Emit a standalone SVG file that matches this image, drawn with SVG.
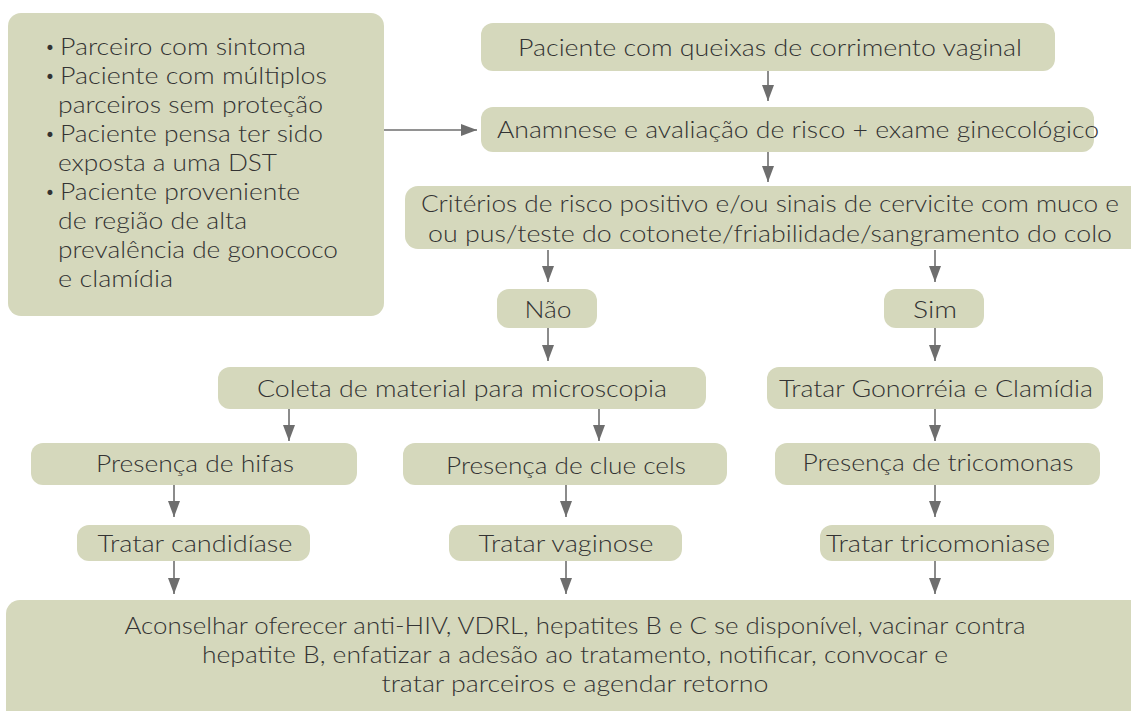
<svg xmlns="http://www.w3.org/2000/svg" width="1131" height="711" viewBox="0 0 1131 711">
<style>
.box{fill:#d5d8bc;}
.t{font-family:Lato,"Open Sans","Liberation Sans",sans-serif;font-size:23px;font-weight:300;fill:#333333;}
.b{font-size:17px;}
.c{text-anchor:middle;}
.ln{stroke:#6e6e6e;stroke-width:1.6;fill:none;marker-end:url(#ah);}
</style>
<defs>
<marker id="ah" markerUnits="userSpaceOnUse" markerWidth="16" markerHeight="12" refX="16" refY="6" orient="auto">
<path d="M0,0 L16,6 L0,12 z" fill="#6e6e6e"/>
</marker>
</defs>
<rect width="1131" height="711" fill="#ffffff"/>

<g id="connectors">
<line class="ln" x1="384" y1="130" x2="477" y2="130"/>
<line class="ln" x1="768" y1="71" x2="768" y2="101"/>
<line class="ln" x1="768" y1="152" x2="768" y2="182"/>
<line class="ln" x1="548" y1="250" x2="548" y2="282"/>
<line class="ln" x1="935" y1="250" x2="935" y2="282"/>
<line class="ln" x1="548" y1="328" x2="548" y2="361"/>
<line class="ln" x1="935" y1="328" x2="935" y2="361"/>
<line class="ln" x1="289" y1="409" x2="289" y2="441"/>
<line class="ln" x1="599" y1="409" x2="599" y2="441"/>
<line class="ln" x1="935" y1="409" x2="935" y2="441"/>
<line class="ln" x1="174" y1="485" x2="174" y2="517"/>
<line class="ln" x1="566" y1="485" x2="566" y2="517"/>
<line class="ln" x1="935" y1="485" x2="935" y2="517"/>
<line class="ln" x1="174" y1="561" x2="174" y2="594"/>
<line class="ln" x1="566" y1="561" x2="566" y2="594"/>
<line class="ln" x1="935" y1="561" x2="935" y2="594"/>
</g>

<g id="risk-factors">
<rect class="box" x="8" y="13" width="376" height="303" rx="13"/>
<text class="t b" x="45" y="53">•</text><text class="t" x="60" y="55" textLength="246" lengthAdjust="spacingAndGlyphs">Parceiro com sintoma</text>
<text class="t b" x="45" y="82">•</text><text class="t" x="60" y="84" textLength="267" lengthAdjust="spacingAndGlyphs">Paciente com múltiplos</text>
<text class="t" x="58" y="113" textLength="265" lengthAdjust="spacingAndGlyphs">parceiros sem proteção</text>
<text class="t b" x="45" y="140">•</text><text class="t" x="60" y="142" textLength="263" lengthAdjust="spacingAndGlyphs">Paciente pensa ter sido</text>
<text class="t" x="58" y="171" textLength="219" lengthAdjust="spacingAndGlyphs">exposta a uma DST</text>
<text class="t b" x="45" y="198">•</text><text class="t" x="60" y="200" textLength="240" lengthAdjust="spacingAndGlyphs">Paciente proveniente</text>
<text class="t" x="58" y="229" textLength="189" lengthAdjust="spacingAndGlyphs">de região de alta</text>
<text class="t" x="58" y="258" textLength="280" lengthAdjust="spacingAndGlyphs">prevalência de gonococo</text>
<text class="t" x="58" y="287" textLength="115" lengthAdjust="spacingAndGlyphs">e clamídia</text>
</g>

<g id="queixa">
<rect class="box" x="481" y="23" width="574" height="48" rx="12"/>
<text class="t c" x="770" y="56" textLength="504" lengthAdjust="spacingAndGlyphs">Paciente com queixas de corrimento vaginal</text>
</g>

<g id="anamnese">
<rect class="box" x="481" y="107" width="613" height="45" rx="12"/>
<text class="t c" x="798" y="138" textLength="602" lengthAdjust="spacingAndGlyphs">Anamnese e avaliação de risco + exame ginecológico</text>
</g>

<g id="criterios">
<rect class="box" x="405" y="186" width="740" height="63" rx="13"/>
<text class="t c" x="770" y="212" textLength="698" lengthAdjust="spacingAndGlyphs">Critérios de risco positivo e/ou sinais de cervicite com muco e</text>
<text class="t c" x="770" y="242" textLength="684" lengthAdjust="spacingAndGlyphs">ou pus/teste do cotonete/friabilidade/sangramento do colo</text>
</g>

<g id="nao">
<rect class="box" x="497" y="289" width="100" height="39" rx="12"/>
<text class="t c" x="548" y="318" textLength="47" lengthAdjust="spacingAndGlyphs">Não</text>
</g>

<g id="sim">
<rect class="box" x="884" y="289" width="100" height="39" rx="12"/>
<text class="t c" x="935" y="318" textLength="44" lengthAdjust="spacingAndGlyphs">Sim</text>
</g>

<g id="coleta">
<rect class="box" x="218" y="367" width="488" height="42" rx="12"/>
<text class="t c" x="462" y="397" textLength="410" lengthAdjust="spacingAndGlyphs">Coleta de material para microscopia</text>
</g>

<g id="tratar-gonorreia">
<rect class="box" x="767" y="367" width="336" height="42" rx="12"/>
<text class="t c" x="936" y="397" textLength="314" lengthAdjust="spacingAndGlyphs">Tratar Gonorréia e Clamídia</text>
</g>

<g id="hifas">
<rect class="box" x="31" y="443" width="326" height="42" rx="12"/>
<text class="t c" x="195" y="472" textLength="198" lengthAdjust="spacingAndGlyphs">Presença de hifas</text>
</g>

<g id="clue-cels">
<rect class="box" x="403" y="443" width="324" height="42" rx="12"/>
<text class="t c" x="566" y="474" textLength="240" lengthAdjust="spacingAndGlyphs">Presença de clue cels</text>
</g>

<g id="tricomonas">
<rect class="box" x="775" y="443" width="325" height="42" rx="12"/>
<text class="t c" x="938" y="471" textLength="271" lengthAdjust="spacingAndGlyphs">Presença de tricomonas</text>
</g>

<g id="candidiase">
<rect class="box" x="77" y="525" width="233" height="36" rx="12"/>
<text class="t c" x="195" y="552" textLength="195" lengthAdjust="spacingAndGlyphs">Tratar candidíase</text>
</g>

<g id="vaginose">
<rect class="box" x="449" y="525" width="233" height="36" rx="12"/>
<text class="t c" x="566" y="552" textLength="175" lengthAdjust="spacingAndGlyphs">Tratar vaginose</text>
</g>

<g id="tricomoniase">
<rect class="box" x="820" y="525" width="234" height="36" rx="12"/>
<text class="t c" x="938" y="552" textLength="224" lengthAdjust="spacingAndGlyphs">Tratar tricomoniase</text>
</g>

<g id="aconselhar">
<rect class="box" x="6" y="600" width="1140" height="125" rx="14"/>
<text class="t c" x="575" y="634" textLength="901" lengthAdjust="spacingAndGlyphs">Aconselhar oferecer anti-HIV, VDRL, hepatites B e C se disponível, vacinar contra</text>
<text class="t c" x="575" y="663" textLength="746" lengthAdjust="spacingAndGlyphs">hepatite B, enfatizar a adesão ao tratamento, notificar, convocar e</text>
<text class="t c" x="575" y="692" textLength="387" lengthAdjust="spacingAndGlyphs">tratar parceiros e agendar retorno</text>
</g>
</svg>
